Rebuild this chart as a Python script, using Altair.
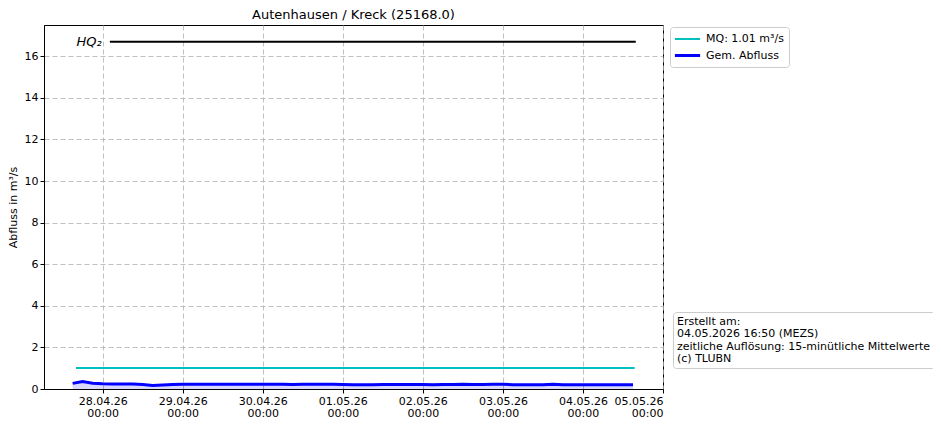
import altair as alt
import pandas as pd

title = "Autenhausen / Kreck (25168.0)"
y_title = "Abfluss in m³/s"
series_names = ["MQ: 1.01 m³/s", "Gem. Abfluss"]
series_colors = ["#00bfbf", "#0000ff"]
series_widths = [2, 3]

times = pd.date_range("2026-04-27 15:00", "2026-05-04 15:00", freq="3h")
flow = [
    0.27, 0.36, 0.28,
    0.25, 0.24, 0.24, 0.24, 0.22, 0.17, 0.19, 0.22,
    0.23, 0.23, 0.23, 0.23, 0.23, 0.23, 0.23, 0.23,
    0.23, 0.23, 0.23, 0.22, 0.23, 0.23, 0.23, 0.23,
    0.22, 0.21, 0.21, 0.21, 0.22, 0.22, 0.22, 0.22,
    0.22, 0.21, 0.22, 0.22, 0.23, 0.22, 0.22, 0.23,
    0.23, 0.21, 0.21, 0.21, 0.21, 0.23, 0.21, 0.21,
    0.21, 0.21, 0.21, 0.21, 0.21, 0.21,
]
mq_value = 1.01
mq_times = ["2026-04-27T16:00:00Z", "2026-05-04T15:30:00Z"]
hq_value = 16.7
hq_times = ["2026-04-28T02:10:00Z", "2026-05-04T15:50:00Z"]
hq_label = "HQ₂"
hq_label_time = "2026-04-28T00:00:00Z"
info_lines = [
    "Erstellt am:",
    "04.05.2026 16:50 (MEZS)",
    "zeitliche Auflösung: 15-minütliche Mittelwerte",
    "(c) TLUBN",
]
tick_days = [(4, 28), (4, 29), (4, 30), (5, 1), (5, 2), (5, 3), (5, 4), (5, 5)]
y_ticks = [0, 2, 4, 6, 8, 10, 12, 14, 16]

time_str = [t.strftime("%Y-%m-%dT%H:%M:%SZ") for t in times]
flow_df = pd.DataFrame({"t": time_str, "v": flow, "series": series_names[1]})
mq_df = pd.DataFrame({"t": mq_times, "v": [mq_value, mq_value], "series": series_names[0]})
lines_df = pd.concat([mq_df, flow_df], ignore_index=True)
hq_df = pd.DataFrame({"t": [hq_times[0]], "t2": [hq_times[1]], "v": [hq_value]})
hq_lbl_df = pd.DataFrame({"t": [hq_label_time], "v": [hq_value], "label": [hq_label]})
info_df = pd.DataFrame({"t": [time_str[0]] * 4, "v": [flow[0]] * 4, "info": info_lines})

FONT = "DejaVu Sans"

x_scale = alt.Scale(
    type="utc",
    domain=[
        alt.DateTime(year=2026, month=4, date=27, hours=6, minutes=25, utc=True),
        alt.DateTime(year=2026, month=5, date=5, hours=0, minutes=0, utc=True),
    ],
)
x_axis = alt.Axis(
    title=None,
    values=[alt.DateTime(year=2026, month=m, date=d, utc=True) for m, d in tick_days],
    labelExpr="[utcFormat(datum.value, '%d.%m.%y'), utcFormat(datum.value, '%H:%M')]",
    labelLineHeight=12,
)
y_scale = alt.Scale(domain=[0, 17.5], nice=False, zero=True)
y_axis = alt.Axis(title=y_title, values=y_ticks, titlePadding=6)

x_enc = alt.X("t:T", scale=x_scale, axis=x_axis)
y_enc = alt.Y("v:Q", scale=y_scale, axis=y_axis)

area = alt.Chart(flow_df).mark_area(color="#0000ff", opacity=0.15).encode(
    x=x_enc, y=y_enc
)

series_legend = alt.Legend(
    title=None,
    orient="none",
    legendX=626,
    legendY=2,
    fillColor="white",
    strokeColor="#cccccc",
    cornerRadius=3,
    padding=5,
    labelFont=FONT,
    labelFontSize=11,
    labelColor="black",
    symbolType="M-2.1,0H2.1",
    symbolSize=144,
    symbolOffset=5,
    labelOffset=11,
    rowPadding=4,
)

lines = alt.Chart(lines_df).mark_line().encode(
    x=x_enc,
    y=y_enc,
    color=alt.Color(
        "series:N",
        scale=alt.Scale(domain=series_names, range=series_colors),
        legend=series_legend,
    ),
    strokeWidth=alt.StrokeWidth(
        "series:N",
        scale=alt.Scale(domain=series_names, range=series_widths),
        legend=series_legend,
    ),
    detail="series:N",
)

hq_rule = alt.Chart(hq_df).mark_rule(color="black", strokeWidth=2).encode(
    x=alt.X("t:T", scale=x_scale, axis=x_axis), x2="t2:T", y=y_enc
)

hq_text = alt.Chart(hq_lbl_df).mark_text(
    align="right", baseline="middle", fontStyle="italic", fontSize=13, font=FONT, dx=-1, color="black"
).encode(x=x_enc, y=y_enc, text="label:N")

info = alt.Chart(info_df).mark_point(opacity=0).encode(
    x=x_enc,
    y=y_enc,
    shape=alt.Shape(
        "info:N",
        scale=alt.Scale(domain=info_lines),
        legend=alt.Legend(
            title=None,
            orient="none",
            legendX=629,
            legendY=287,
            fillColor="white",
            strokeColor="#cccccc",
            cornerRadius=3,
            padding=4,
            labelFont=FONT,
            labelFontSize=11,
            labelColor="black",
            labelLimit=500,
            symbolSize=0,
            symbolOpacity=0,
            symbolStrokeWidth=0,
            labelOffset={"expr": "-11"},
            rowPadding=0.5,
        ),
    ),
)

chart = (
    alt.layer(area, lines, hq_rule, hq_text, info)
    .properties(
        width=619,
        height=364,
        title=alt.TitleParams(title, font=FONT, fontSize=13, fontWeight="normal", color="black", offset=3),
        autosize=alt.AutoSizeParams(type="none"),
        padding={"left": 36, "top": 17, "right": 270, "bottom": 29},
    )
    .configure_view(stroke="black", strokeWidth=1)
    .configure_axis(
        labelFont=FONT,
        labelFontSize=11,
        labelColor="black",
        titleFont=FONT,
        titleFontSize=11,
        titleFontWeight="normal",
        titleColor="black",
        domainColor="black",
        tickColor="black",
        tickSize=4,
        labelPadding=2,
        gridColor="#b0b0b0",
        gridDash=[5, 3],
        gridWidth=0.8,
    )
)

chart.save("out.html", embed_options={"renderer": "svg", "actions": False})
